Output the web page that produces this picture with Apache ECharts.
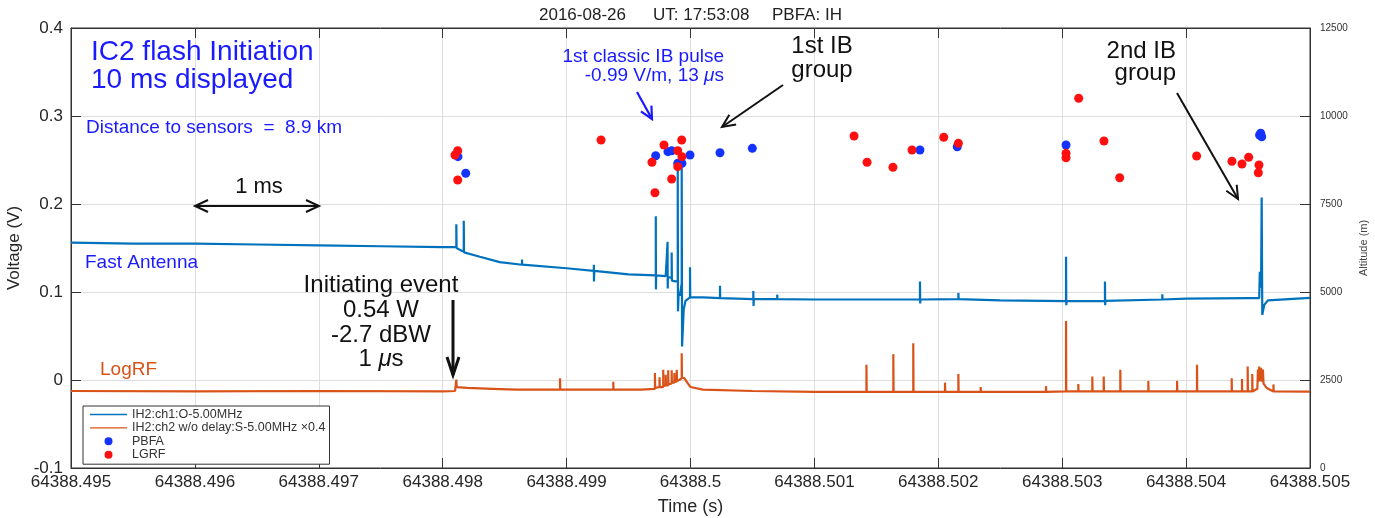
<!DOCTYPE html>
<html>
<head>
<meta charset="utf-8">
<script src="https://cdn.jsdelivr.net/npm/echarts@6/dist/echarts.min.js"></script>
<style>
html,body{margin:0;padding:0;background:#fff;}
#chart{width:1375px;height:518px;}
</style>
</head>
<body>
<div id="chart"></div>
<script>
// Time origin (s); all times below are in ms after T0
const T0_MS = 64388495;
const xTicksMs = [0, 1, 2, 3, 4, 5, 6, 7, 8, 9, 10];

// Fast antenna (V) : [ms after T0, volts]
const fastAntenna = [
  [0, 0.156], [0.5, 0.155], [1.0, 0.155], [1.5, 0.154], [2.0, 0.153], [2.5, 0.152], [3.0, 0.151],
  [3.11, 0.151], [3.11, 0.177], [3.112, 0.150], [3.15, 0.147],
  [3.17, 0.146], [3.17, 0.181], [3.172, 0.145],
  [3.3, 0.140], [3.46, 0.134],
  [3.64, 0.131], [3.64, 0.137], [3.642, 0.131],
  [4.0, 0.127],
  [4.22, 0.124], [4.22, 0.131], [4.221, 0.112], [4.223, 0.124],
  [4.5, 0.120],
  [4.72, 0.119], [4.72, 0.186], [4.721, 0.103], [4.723, 0.119],
  [4.80, 0.118],
  [4.815, 0.118], [4.815, 0.157], [4.816, 0.104], [4.818, 0.117],
  [4.848, 0.116], [4.848, 0.145], [4.85, 0.113],
  [4.88, 0.112],
  [4.897, 0.112], [4.897, 0.245], [4.899, 0.078], [4.905, 0.100], [4.915, 0.096],
  [4.929, 0.110], [4.929, 0.245], [4.932, 0.038], [4.945, 0.080], [4.96, 0.090],
  [4.996, 0.094], [4.996, 0.128], [4.998, 0.094],
  [5.1, 0.094],
  [5.238, 0.093], [5.238, 0.107], [5.24, 0.093],
  [5.507, 0.092], [5.507, 0.101], [5.509, 0.084], [5.511, 0.092],
  [5.70, 0.092], [5.70, 0.097], [5.702, 0.092],
  [6.0, 0.0915], [6.5, 0.0915],
  [6.852, 0.0915], [6.852, 0.112], [6.854, 0.087], [6.856, 0.0915],
  [7.162, 0.092], [7.162, 0.099], [7.164, 0.092],
  [7.5, 0.0905],
  [8.031, 0.0896], [8.031, 0.140], [8.033, 0.085], [8.035, 0.0896],
  [8.345, 0.090], [8.345, 0.112], [8.347, 0.085], [8.349, 0.090],
  [8.808, 0.0915], [8.808, 0.0975], [8.81, 0.0915],
  [9.0, 0.0925], [9.5, 0.093],
  [9.59, 0.093], [9.595, 0.123], [9.605, 0.105], [9.61, 0.2075], [9.615, 0.074], [9.63, 0.085], [9.66, 0.0905],
  [10, 0.0934]
];

// LogRF (scaled, V) : [ms after T0, volts]
const logRF = [
  [0, -0.0125], [1, -0.013], [2, -0.0125], [3, -0.013], [3.10, -0.0125],
  [3.11, 0.0005], [3.113, -0.008], [3.2, -0.009], [3.4, -0.010], [3.6, -0.011],
  [3.947, -0.011], [3.947, 0.002], [3.949, -0.011],
  [4.377, -0.011], [4.377, -0.002], [4.379, -0.011],
  [4.6, -0.011],
  [4.713, -0.010], [4.713, 0.008], [4.715, -0.009],
  [4.75, -0.008], [4.75, 0.003], [4.752, -0.008],
  [4.78, -0.008], [4.78, 0.0117], [4.782, -0.007],
  [4.80, -0.006], [4.80, 0.006], [4.802, -0.006],
  [4.82, -0.006], [4.82, 0.011], [4.822, -0.005],
  [4.848, -0.004], [4.848, 0.011], [4.85, -0.003],
  [4.87, -0.003], [4.87, 0.008], [4.872, -0.002],
  [4.889, -0.002], [4.889, 0.0117], [4.891, -0.001],
  [4.91, 0.0], [4.929, 0.002], [4.929, 0.0305], [4.931, 0.003], [4.95, 0.002],
  [4.97, -0.002], [5.0, -0.008], [5.1, -0.011],
  [5.5, -0.0125], [6.0, -0.0135],
  [6.42, -0.0135], [6.42, 0.0173], [6.422, -0.0135],
  [6.637, -0.0135], [6.637, 0.0294], [6.639, -0.0135],
  [6.798, -0.0135], [6.798, 0.0418], [6.8, -0.0135],
  [7.054, -0.0135], [7.054, -0.003], [7.056, -0.0135],
  [7.162, -0.0135], [7.162, 0.0068], [7.164, -0.0135],
  [7.342, -0.0135], [7.342, -0.008], [7.344, -0.0135],
  [7.869, -0.0135], [7.869, -0.007], [7.871, -0.0135],
  [8.031, -0.013], [8.031, 0.067], [8.033, -0.013],
  [8.13, -0.013], [8.13, -0.0045], [8.132, -0.013],
  [8.243, -0.013], [8.243, 0.004], [8.245, -0.013],
  [8.335, -0.013], [8.335, 0.004], [8.337, -0.013],
  [8.469, -0.013], [8.469, 0.0117], [8.471, -0.013],
  [8.695, -0.013], [8.695, -0.001], [8.697, -0.013],
  [8.927, -0.013], [8.927, -0.001], [8.929, -0.013],
  [9.088, -0.013], [9.088, 0.0173], [9.09, -0.013],
  [9.368, -0.013], [9.368, 0.002], [9.37, -0.013],
  [9.451, -0.013], [9.451, 0.001], [9.453, -0.013],
  [9.497, -0.013], [9.497, 0.0154], [9.499, -0.013],
  [9.534, -0.013], [9.534, 0.0068], [9.536, -0.013],
  [9.575, -0.010], [9.58, 0.012], [9.585, -0.002], [9.59, 0.0154], [9.595, -0.001],
  [9.605, 0.014], [9.61, -0.002], [9.62, 0.012], [9.625, -0.004], [9.65, -0.009],
  [9.705, -0.013], [9.705, -0.005], [9.707, -0.013],
  [10, -0.0132]
];

// PBFA source altitudes : [ms after T0, metres]
const pbfa = [
  [3.123, 8844], [3.186, 8372], [4.719, 8872], [4.818, 8986], [4.848, 9014],
  [4.897, 8656], [4.931, 8656], [4.996, 8892], [5.238, 8957], [5.499, 9082],
  [6.852, 9034], [7.153, 9128], [8.031, 9176], [9.593, 9460], [9.602, 9509], [9.610, 9412]
];

// LGRF source altitudes : [ms after T0, metres]
const lgrf = [
  [3.099, 8892], [3.121, 9014], [3.121, 8182], [4.278, 9318], [4.786, 9176],
  [4.689, 8685], [4.713, 7821], [4.848, 8210], [4.897, 9014], [4.929, 9318],
  [4.931, 8844], [4.897, 8560], [6.320, 9432], [6.425, 8685], [6.634, 8543],
  [6.788, 9034], [7.044, 9395], [7.162, 9224], [8.031, 8940], [8.031, 8815],
  [8.133, 10503], [8.337, 9290], [8.464, 8247], [9.085, 8864], [9.370, 8713],
  [9.451, 8636], [9.505, 8827], [9.588, 8608], [9.583, 8389]
];

const seriesNames = ['IH2:ch1:O-5.00MHz', 'IH2:ch2 w/o delay:S-5.00MHz \u00d70.4', 'PBFA', 'LGRF'];

const FONT = '"Liberation Sans", Arial, Helvetica, sans-serif';
const BLUE_TXT = '#1a1aff';
const BLK = '#111';
const LINE_ICON = 'path://M0,0 L37,0 L37,1.4 L0,1.4 Z';

function fmtTime(v) {
  return ((T0_MS + Math.round(v)) / 1000).toString();
}

function txt(text, x, y, size, color, align, extra) {
  return Object.assign({
    type: 'text', silent: true, z: 100,
    style: { text: text, x: x, y: y, font: size + 'px ' + FONT, fill: color,
             textAlign: align || 'left', textVerticalAlign: 'middle' }
  }, extra || {});
}
function head(x1, y1, x2, y2, len, hw, color, lw) {
  const dx = x2 - x1, dy = y2 - y1, L = Math.sqrt(dx * dx + dy * dy);
  const ux = dx / L, uy = dy / L, px = -uy, py = ux;
  const bx = x2 - ux * len, by = y2 - uy * len;
  return { type: 'polyline', silent: true, z: 100,
    shape: { points: [[bx + px * hw, by + py * hw], [x2, y2], [bx - px * hw, by - py * hw]] },
    style: { stroke: color, fill: null, lineWidth: lw, lineJoin: 'miter' } };
}
function arrow(x1, y1, x2, y2, color, lw, len, hw, both) {
  const els = [{ type: 'line', silent: true, z: 100, shape: { x1: x1, y1: y1, x2: x2, y2: y2 },
                 style: { stroke: color, lineWidth: lw } }];
  els.push(head(x1, y1, x2, y2, len, hw, color, lw));
  if (both) els.push(head(x2, y2, x1, y1, len, hw, color, lw));
  return els;
}

const graphics = [].concat(
  [
    txt('2016-08-26', 539, 15, 17, '#222'),
    txt('UT: 17:53:08', 653, 15, 17, '#222'),
    txt('PBFA: IH', 772, 15, 17, '#222'),
    txt('IC2 flash Initiation', 91, 52, 28, BLUE_TXT),
    txt('10 ms displayed', 91, 80, 28, BLUE_TXT),
    txt('Distance to sensors  =  8.9 km', 86, 128, 19, BLUE_TXT),
    txt('1 ms', 259, 187, 22, BLK, 'center'),
    txt('Fast Antenna', 85, 263, 19, BLUE_TXT),
    txt('LogRF', 100, 370, 19, '#d95319'),
    txt('Initiating event', 381, 285.5, 24, BLK, 'center'),
    txt('0.54 W', 381, 310.5, 24, BLK, 'center'),
    txt('-2.7 dBW', 381, 335, 24, BLK, 'center'),
    {
      type: 'text', silent: true, z: 100,
      style: { text: '1 {i|\u03bc}s', x: 381, y: 359.5, font: '24px ' + FONT, fill: BLK,
               textAlign: 'center', textVerticalAlign: 'middle',
               rich: { i: { fontStyle: 'italic', fontSize: 24, fontFamily: FONT, fill: BLK } } }
    },
    txt('1st classic IB pulse', 724, 56.5, 19, BLUE_TXT, 'right'),
    {
      type: 'text', silent: true, z: 100,
      style: { text: '-0.99 V/m, 13 {i|\u03bc}s', x: 724, y: 75.5, font: '19px ' + FONT, fill: BLUE_TXT,
               textAlign: 'right', textVerticalAlign: 'middle',
               rich: { i: { fontStyle: 'italic', fontSize: 19, fontFamily: FONT, fill: BLUE_TXT } } }
    },
    txt('1st IB', 822, 46.5, 24, BLK, 'center'),
    txt('group', 822, 70.5, 24, BLK, 'center'),
    txt('2nd IB', 1176, 51, 24, BLK, 'right'),
    txt('group', 1176, 73.5, 24, BLK, 'right')
  ],
  arrow(195, 206, 319, 206, BLK, 2, 13, 6, true),
  arrow(453, 300, 453, 375, BLK, 3, 18, 6, false),
  arrow(637, 92, 652, 119, '#1a1aff', 2.2, 12, 6, false),
  arrow(783, 85, 722, 127, BLK, 2, 13, 6, false),
  arrow(1177, 93, 1238, 199, BLK, 2, 13, 6, false)
);

const chart = echarts.init(document.getElementById('chart'), null, { renderer: 'canvas' });
chart.setOption({
  animation: false,
  backgroundColor: '#fff',
  textStyle: { fontFamily: FONT },
  grid: { left: 71, right: 65, top: 28, bottom: 50, show: true, borderColor: '#333', borderWidth: 1,
          backgroundColor: 'transparent', containLabel: false, outerBoundsMode: 'none' },
  legend: {
    orient: 'vertical', left: 83, top: 406,
    itemWidth: 37, itemHeight: 8, itemGap: 0.4,
    padding: [2, 4, 3, 7],
    borderColor: '#333', borderWidth: 1, backgroundColor: '#fff',
    selectedMode: false,
    textStyle: { fontSize: 12.5, color: '#333', fontFamily: FONT },
    data: [
      { name: seriesNames[0], icon: LINE_ICON, itemStyle: { color: '#0072bd' } },
      { name: seriesNames[1], icon: LINE_ICON, itemStyle: { color: '#d95319' } },
      { name: seriesNames[2], icon: 'circle' },
      { name: seriesNames[3], icon: 'circle' }
    ],
    z: 50
  },
  xAxis: [
    {
      type: 'value', min: 0, max: 10, interval: 1, position: 'bottom',
      name: 'Time (s)', nameLocation: 'middle', nameGap: 30,
      nameTextStyle: { fontSize: 18, color: '#262626', fontFamily: FONT },
      axisLine: { show: true, onZero: false, lineStyle: { color: '#333', width: 1 } },
      axisTick: { show: true, inside: true, length: 10, lineStyle: { color: '#333' } },
      axisLabel: { fontSize: 17, color: '#262626', margin: 6, formatter: fmtTime, fontFamily: FONT },
      splitLine: { show: true, lineStyle: { color: '#dedede', width: 1 } }
    },
    {
      type: 'value', min: 0, max: 10, interval: 1, position: 'top',
      axisLine: { show: true, onZero: false, lineStyle: { color: '#333', width: 1 } },
      axisTick: { show: true, inside: true, length: 10, lineStyle: { color: '#333' } },
      axisLabel: { show: false },
      splitLine: { show: false }
    }
  ],
  yAxis: [
    {
      type: 'value', min: -0.1, max: 0.4, interval: 0.1, position: 'left',
      name: 'Voltage (V)', nameLocation: 'middle', nameGap: 45, nameRotate: 90,
      nameTextStyle: { fontSize: 17, color: '#262626', fontFamily: FONT },
      axisLine: { show: true, onZero: false, lineStyle: { color: '#333', width: 1 } },
      axisTick: { show: true, inside: true, length: 10, lineStyle: { color: '#333' } },
      axisLabel: { fontSize: 17, color: '#262626', margin: 8, fontFamily: FONT },
      splitLine: { show: true, lineStyle: { color: '#dedede', width: 1 } }
    },
    {
      type: 'value', min: 0, max: 12500, interval: 2500, position: 'right',
      name: 'Altitude (m)', nameLocation: 'middle', nameGap: 42, nameRotate: 90,
      nameTextStyle: { fontSize: 11, color: '#444', fontFamily: FONT },
      axisLine: { show: true, onZero: false, lineStyle: { color: '#333', width: 1 } },
      axisTick: { show: true, inside: true, length: 10, lineStyle: { color: '#333' } },
      axisLabel: { fontSize: 10, color: '#333', margin: 10, fontFamily: FONT, formatter: function (v) { return String(v); } },
      splitLine: { show: false }
    }
  ],
  series: [
    {
      name: seriesNames[0], type: 'line', xAxisIndex: 0, yAxisIndex: 0,
      data: fastAntenna, symbol: 'none', showSymbol: false,
      lineStyle: { color: '#0072bd', width: 2.2 }, itemStyle: { color: '#0072bd' }, z: 3
    },
    {
      name: seriesNames[1], type: 'line', xAxisIndex: 0, yAxisIndex: 0,
      data: logRF, symbol: 'none', showSymbol: false,
      lineStyle: { color: '#d95319', width: 2.2 }, itemStyle: { color: '#d95319' }, z: 3
    },
    {
      name: seriesNames[2], type: 'scatter', xAxisIndex: 0, yAxisIndex: 1,
      data: pbfa, symbolSize: 9, itemStyle: { color: '#1433ff', opacity: 1 }, z: 4
    },
    {
      name: seriesNames[3], type: 'scatter', xAxisIndex: 0, yAxisIndex: 1,
      data: lgrf, symbolSize: 9, itemStyle: { color: '#ff1010', opacity: 1 }, z: 5
    }
  ],
  graphic: graphics
});
</script>
</body>
</html>
